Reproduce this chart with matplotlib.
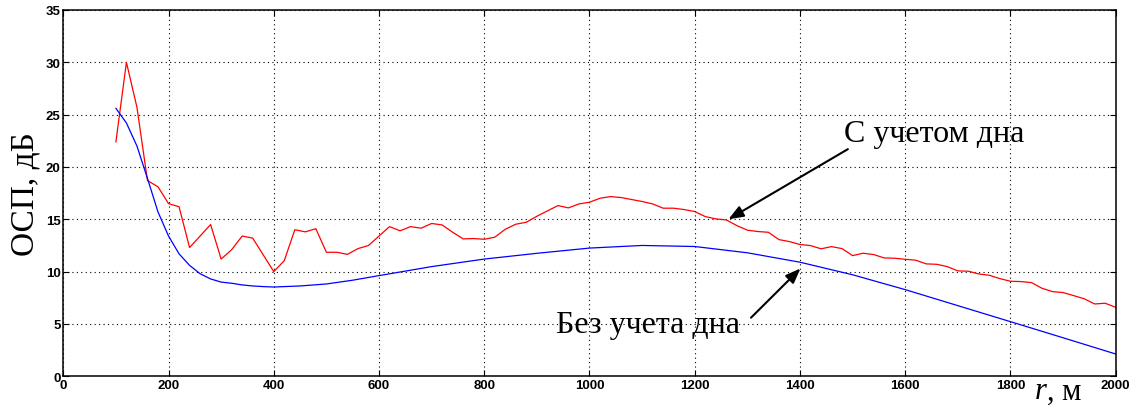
import numpy as np
import matplotlib.pyplot as plt

# range, m
r_with = np.arange(100, 2001, 20)
snr_with = [
    22.4, 30.0, 25.7, 18.7, 18.1, 16.5, 16.2, 12.3, 13.4, 14.5,
    11.2, 12.1, 13.4, 13.2, 11.6, 10.0, 11.05, 14.0, 13.8, 14.1,
    11.85, 11.85, 11.65, 12.2, 12.5, 13.4, 14.3, 13.9, 14.3, 14.15,
    14.6, 14.46, 13.76, 13.13, 13.16, 13.09, 13.29, 14.05, 14.53, 14.72,
    15.29, 15.80, 16.31, 16.09, 16.47, 16.63, 17.01, 17.17, 17.08, 16.89,
    16.70, 16.47, 16.06, 16.06, 15.93, 15.74, 15.26, 15.04, 14.94, 14.40,
    13.96, 13.83, 13.76, 13.06, 12.87, 12.59, 12.49, 12.18, 12.39, 12.20,
    11.53, 11.76, 11.63, 11.31, 11.28, 11.18, 11.09, 10.74, 10.70, 10.48,
    10.07, 10.04, 9.78, 9.65, 9.33, 9.08, 9.05, 8.95, 8.41, 8.09,
    8.00, 7.71, 7.41, 6.91, 6.98, 6.59,
]

r_without = [100, 120, 140, 160, 180, 200, 220, 240, 260, 280, 300, 320, 340,
             360, 380, 400, 450, 500, 550, 600, 650, 700, 800, 900, 1000, 1100,
             1200, 1300, 1400, 1500, 1600, 1700, 1800, 1900, 2000]
snr_without = [25.6, 24.2, 22.0, 18.9, 15.7, 13.4, 11.7, 10.6, 9.8, 9.3, 9.0, 8.89, 8.73,
               8.63, 8.57, 8.53, 8.63, 8.82, 9.18, 9.62, 10.05, 10.48, 11.2, 11.75,
               12.25, 12.5, 12.4, 11.8, 10.9, 9.7, 8.28, 6.75, 5.22, 3.68, 2.13]

label_with = "С учетом дна"
label_without = "Без учета дна"

fig = plt.figure(figsize=(11.32, 4.06), dpi=100)
ax = fig.add_axes([0.0559, 0.0707, 0.9297, 0.9023])

ax.plot(r_with, snr_with, color="red", lw=0.9)
ax.plot(r_without, snr_without, color="blue", lw=0.9)

ax.set_xlim(0, 2000)
ax.set_ylim(0, 35)
ax.set_xticks(np.arange(0, 2001, 200))
ax.set_yticks(np.arange(0, 36, 5))
ax.grid(True, color="black", linestyle=(0, (1, 3)), lw=0.8)
ax.tick_params(direction="in", length=4, top=True, right=True, pad=2)
for lab in ax.get_xticklabels() + ax.get_yticklabels():
    lab.set_fontfamily("Liberation Sans")
    lab.set_fontweight("bold")
    lab.set_fontsize(9.5)
for s in ax.spines.values():
    s.set_linewidth(1.1)

serif = "Liberation Serif"
ax.set_ylabel("ОСП, дБ", fontsize=24, family=serif, labelpad=4)

ax.annotate("", xy=(1264, 15.0), xytext=(1491, 21.7),
            arrowprops=dict(arrowstyle="-|>,head_length=0.9,head_width=0.35",
                            color="black", lw=1.5, shrinkA=0, shrinkB=0))
ax.text(1483, 22.5, label_with, fontsize=23, family=serif, va="baseline", ha="left")

ax.annotate("", xy=(1401, 10.3), xytext=(1307, 5.6),
            arrowprops=dict(arrowstyle="-|>,head_length=0.9,head_width=0.35",
                            color="black", lw=1.5, shrinkA=0, shrinkB=0))
ax.text(937, 4.26, label_without, fontsize=23, family=serif, va="baseline", ha="left")

fig.text(1035 / 1132, 6.5 / 406, "r", fontsize=22, family=serif, style="italic", va="baseline")
fig.text(1047 / 1132, 6.5 / 406, ", м", fontsize=22, family=serif, va="baseline")

fig.savefig("out.png", dpi=100)
